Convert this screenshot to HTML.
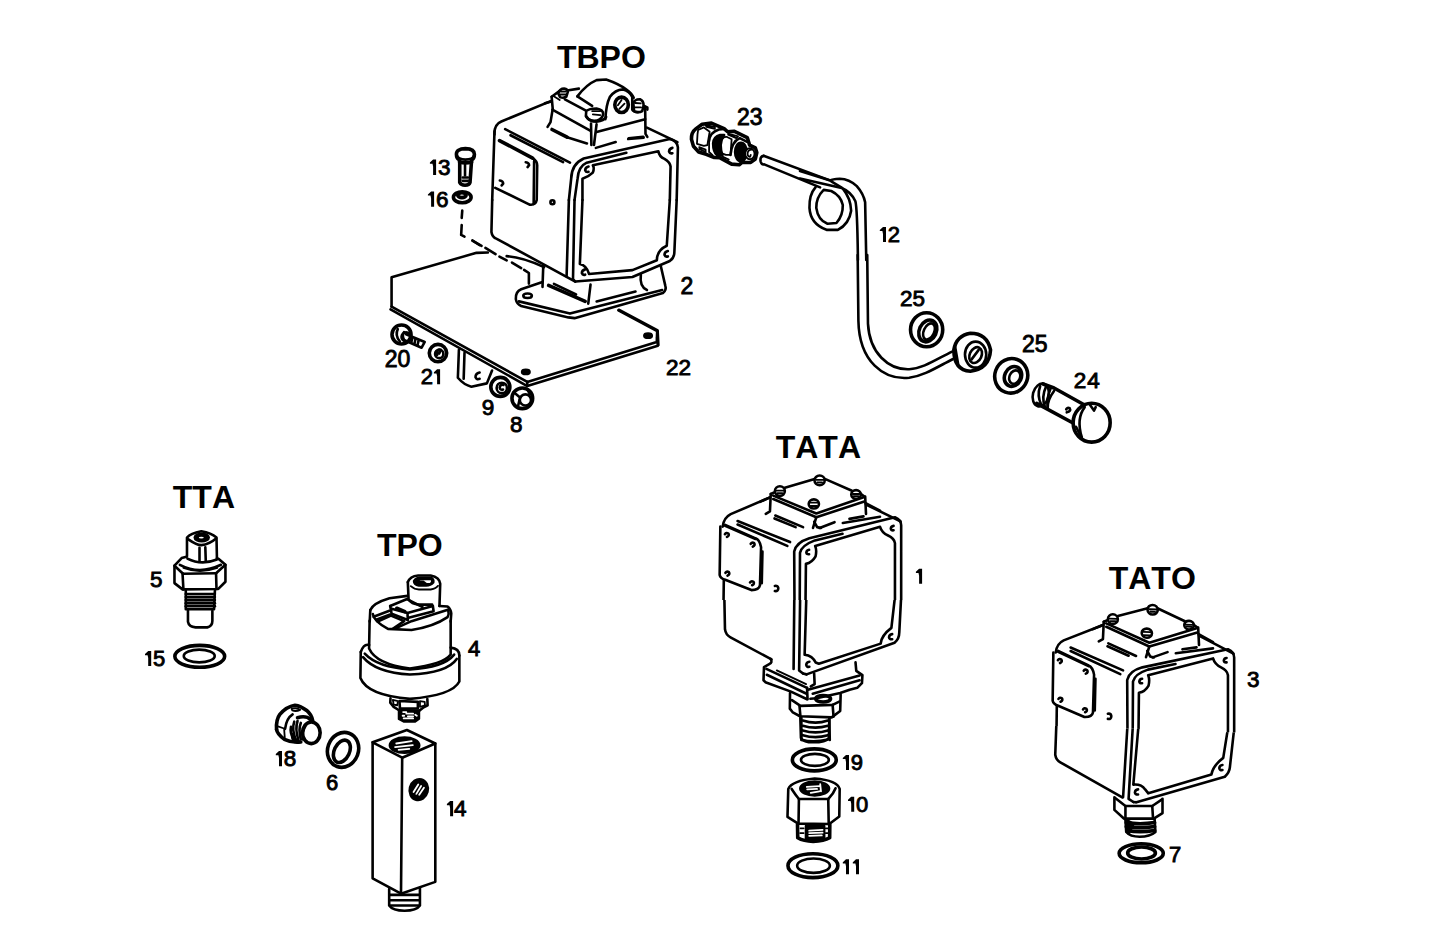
<!DOCTYPE html>
<html><head><meta charset="utf-8">
<style>
html,body{margin:0;padding:0;background:#fff;}
svg{display:block;}
.t{font-family:"Liberation Sans",sans-serif;font-weight:bold;font-size:32px;fill:#000;font-kerning:none;}
.n{font-family:"Liberation Sans",sans-serif;font-weight:normal;fill:#000;stroke:#000;stroke-width:0.9px;font-kerning:none;}
.s path,.s ellipse,.s circle,.s rect,.s polygon,.s polyline{fill:none;stroke:#000;stroke-width:2.6;stroke-linecap:round;stroke-linejoin:round;vector-effect:non-scaling-stroke;}
.s .f{fill:#fff;}
.s .k{fill:#000;}
.s .th{stroke-width:1.8;}
.s .bd{stroke-width:3.6;}
</style></head>
<body>
<svg width="1449" height="951" viewBox="0 0 1449 951">
<g id="labels"><text class="t" x="556.9" y="68">TBPO</text>
<text class="t" x="775.7" y="458">TATA</text>
<text class="t" x="172.8" y="508">TTA</text>
<text class="t" x="376.9" y="556">TPO</text>
<text class="t" x="1108.7" y="589">TATO</text>
<path d="M433.1 159.6 L436.1 159.6 L436.1 174.9 L433.1 174.9 L433.1 166.6 L432.5 163.8 L429.9 163.8 L429.9 162.6 Z"/>
<text class="n" x="437.9" y="174.9" font-size="22.5">3</text>
<path d="M431.1 191.4 L434.1 191.4 L434.1 206.7 L431.1 206.7 L431.1 198.4 L430.5 195.6 L427.9 195.6 L427.9 194.4 Z"/>
<text class="n" x="435.9" y="206.7" font-size="22.5">6</text>
<text class="n" x="680.4" y="293.7" font-size="23">2</text>
<text class="n" x="384.8" y="367.0" font-size="23">2</text>
<text class="n" x="397.6" y="367.0" font-size="23">0</text>
<text class="n" x="420.7" y="384.2" font-size="22">2</text>
<path d="M437.1 369.2 L440.1 369.2 L440.1 384.2 L437.1 384.2 L437.1 376.2 L436.5 373.4 L433.9 373.4 L433.9 372.2 Z"/>
<text class="n" x="481.8" y="414.8" font-size="22.5">9</text>
<text class="n" x="510.0" y="431.9" font-size="22.5">8</text>
<text class="n" x="666.0" y="374.8" font-size="22.5">2</text>
<text class="n" x="678.5" y="374.8" font-size="22.5">2</text>
<text class="n" x="736.9" y="124.9" font-size="23">2</text>
<text class="n" x="749.7" y="124.9" font-size="23">3</text>
<path d="M883.0 226.9 L886.0 226.9 L886.0 241.9 L883.0 241.9 L883.0 233.9 L882.4 231.1 L879.8 231.1 L879.8 229.9 Z"/>
<text class="n" x="887.8" y="241.9" font-size="22">2</text>
<text class="n" x="900.0" y="305.9" font-size="22.5">2</text>
<text class="n" x="912.5" y="305.9" font-size="22.5">5</text>
<text class="n" x="1021.9" y="351.9" font-size="23">2</text>
<text class="n" x="1034.7" y="351.9" font-size="23">5</text>
<text class="n" x="1073.8" y="388.1" font-size="22.5">2</text>
<text class="n" x="1087.3" y="388.1" font-size="22.5">4</text>
<text class="n" x="149.9" y="586.9" font-size="22.5">5</text>
<path d="M148.2 651.0 L151.2 651.0 L151.2 666.0 L148.2 666.0 L148.2 658.0 L147.6 655.2 L145.0 655.2 L145.0 654.0 Z"/>
<text class="n" x="153.0" y="666.0" font-size="22">5</text>
<text class="n" x="467.9" y="656.0" font-size="22">4</text>
<path d="M279.0 751.0 L282.0 751.0 L282.0 766.3 L279.0 766.3 L279.0 758.0 L278.4 755.2 L275.8 755.2 L275.8 754.0 Z"/>
<text class="n" x="283.8" y="766.3" font-size="22.5">8</text>
<text class="n" x="326.0" y="789.9" font-size="22">6</text>
<path d="M450.1 801.0 L453.1 801.0 L453.1 816.3 L450.1 816.3 L450.1 808.0 L449.5 805.2 L446.9 805.2 L446.9 804.0 Z"/>
<text class="n" x="453.9" y="816.3" font-size="22.5">4</text>
<path d="M919.1 568.8 L922.1 568.8 L922.1 583.8 L919.1 583.8 L919.1 575.8 L918.5 573.0 L915.9 573.0 L915.9 571.8 Z"/>
<path d="M846.0 754.9 L849.0 754.9 L849.0 769.9 L846.0 769.9 L846.0 761.9 L845.4 759.1 L842.8 759.1 L842.8 757.9 Z"/>
<text class="n" x="850.8" y="769.9" font-size="22">9</text>
<path d="M851.2 796.8 L854.2 796.8 L854.2 811.8 L851.2 811.8 L851.2 803.8 L850.6 801.0 L848.0 801.0 L848.0 799.8 Z"/>
<text class="n" x="856.0" y="811.8" font-size="22">0</text>
<path d="M846.0 859.2 L849.0 859.2 L849.0 874.2 L846.0 874.2 L846.0 866.2 L845.4 863.4 L842.8 863.4 L842.8 862.2 Z"/>
<path d="M856.0 859.2 L859.0 859.2 L859.0 874.2 L856.0 874.2 L856.0 866.2 L855.4 863.4 L852.8 863.4 L852.8 862.2 Z"/>
<text class="n" x="1246.9" y="686.9" font-size="22.5">3</text>
<text class="n" x="1168.9" y="861.9" font-size="22">7</text></g>
<g transform="translate(480,75) scale(0.152460)" class="s">

<path d="M95 390 Q92 325 140 305 L468 170"/>
<path d="M95 370 L80 820"/>
<path d="M1095 345 L1295 440"/>
<path d="M165 355 L590 575"/>
<path d="M200 395 L545 572"/>
<path class="bd" d="M128 430 L345 545"/>
<path d="M345 545 Q378 565 375 600 L372 820 Q365 855 325 850 L100 740"/>
<path d="M355 565 L352 845"/>
<path d="M300 572 q22 3 22 20 l-10 12"/><path d="M130 692 q22 3 22 20 l-10 12"/>
<circle cx="475" cy="835" r="13"/>
<path d="M583 820 L598 680 Q600 585 680 548 L1245 420 Q1292 430 1298 475 L1290 820"/>
<path d="M620 820 L640 680 Q645 600 700 575 L960 510"/>
<path d="M672 820 L672 680 Q715 665 740 640 Q752 610 740 592 L1170 500 Q1175 535 1210 550 Q1245 570 1250 600 L1245 820"/>
<path d="M712 600 q-22 5 -22 25 q5 15 22 10"/><path d="M1262 478 q-22 5 -22 25 q5 15 22 10"/>
<path d="M760 478 L890 440"/><path d="M975 415 L1070 405"/>

</g>
<g transform="translate(545,75) scale(0.073633)" class="s">

<path d="M0 385 L85 360"/>
<path d="M90 295 L105 460 L75 640 L35 705"/>
<path d="M90 295 L200 215"/>
<path d="M300 210 L460 185"/>
<path d="M440 290 Q560 130 700 70 L830 62 Q1000 120 1110 200 Q1180 250 1205 310"/>
<path d="M820 600 Q830 400 880 300 Q950 200 1060 195 Q1150 215 1185 300 L1185 470 Q1200 500 1260 505"/>
<ellipse class="bd" cx="1040" cy="405" rx="92" ry="105"/>
<path class="th" d="M990 410 L1040 340 M1010 460 L1080 390"/>
<path d="M180 250 Q200 185 260 185 Q310 190 310 230 L290 295 Q250 320 205 300 Z"/>
<path class="th" d="M215 225 L280 225 M205 265 L290 265"/>
<path class="th" d="M120 290 L200 340"/>
<path d="M270 330 L550 480"/>
<path d="M440 290 L640 420"/>
<path d="M100 470 L620 760"/>
<path d="M560 490 Q600 455 700 455 Q790 470 790 530 Q780 600 700 620 Q590 630 555 560 Z"/>
<path class="th" d="M640 490 L750 490 M650 535 L750 545"/>
<path d="M560 560 Q600 630 700 635 Q800 620 830 570"/>
<path d="M700 775 L1360 600"/>
<path d="M1360 430 L1365 800 L1390 840"/>
<path d="M1200 390 Q1210 330 1290 330 Q1340 350 1340 420 L1320 490 Q1270 520 1210 490 Z"/>
<path class="th" d="M1225 380 L1300 385 M1220 440 L1305 440"/>
<path d="M1340 420 L1390 440 L1390 470"/>
<path d="M625 660 L630 951"/><path d="M700 670 L665 951"/>
<path class="bd" d="M95 740 L300 845"/><path d="M300 845 L570 930"/>
<path d="M1130 870 L1340 850"/>

</g>
<g transform="translate(440,215) scale(0.096618)" class="s">

<path d="M335 265 L430 320"/><path d="M470 340 L575 405"/><path d="M615 430 L690 470"/><path d="M745 492 L840 550"/><path d="M870 568 L920 600 L920 710"/>

</g>
<g transform="translate(480,200) scale(0.152460)" class="s">

<path d="M80 0 L75 210 Q80 245 110 255 L625 535"/>
<path d="M583 0 L568 500"/>
<path d="M620 0 L610 520 L625 535 L1000 505 L1245 400 Q1275 380 1275 340 L1290 0"/>
<path d="M672 0 L655 420 Q700 430 715 485 L1000 460 L1160 395 Q1160 330 1225 300 L1245 0"/>
<path d="M690 455 q-22 5 -22 25 q5 15 22 10"/><path d="M1232 335 q-22 5 -22 25 q5 15 22 10"/>
<path d="M415 430 L410 570"/>
<path d="M405 540 L270 585 Q232 600 235 650 Q240 682 270 695 L580 770 L620 775 L1200 610 Q1225 590 1215 560 L1185 430"/>
<path d="M255 665 L590 745 L1195 590"/>
<path d="M1055 490 Q1045 570 1095 590"/>
<path d="M725 555 L710 680"/>
<path class="bd" d="M450 560 L690 665"/><path d="M485 550 L630 620"/>
<ellipse cx="312" cy="628" rx="28" ry="15"/>
<path d="M765 665 L1020 600"/>
<path d="M910 720 L1165 855 L1170 951"/>
<path d="M175 368 Q280 375 420 440"/>

</g>
<g transform="translate(380,140) scale(0.110421)" class="s">

<path class="bd" d="M692 130 Q690 80 773 78 Q855 80 855 130 Q855 170 830 180 L830 200 Q773 215 720 200 L720 180 Q692 170 692 130 Z"/>
<path d="M695 140 Q705 175 773 178 Q845 175 852 140"/>
<path class="bd" d="M722 200 L722 385 Q735 410 770 410 Q808 408 815 385 L828 200"/>
<path d="M750 340 L795 340"/><path d="M750 370 L795 370"/>
<path d="M770 225 L770 320"/>
<ellipse class="bd" cx="745" cy="518" rx="80" ry="50"/>
<ellipse class="bd" cx="742" cy="500" rx="38" ry="22"/>
<path d="M745 640 L740 705"/>
<path d="M740 770 L735 860 L765 875"/>
<path d="M838 910 L900 951"/>

</g>
<g transform="translate(375,240) scale(0.207182)" class="s">

<path d="M80 322 L80 180 L490 62 L545 60"/>
<path d="M80 322 L735 685 L1360 492 L1362 440 L1175 340"/>
<path d="M75 335 L735 705 L1365 510 L1362 470"/>
<path d="M735 685 L735 705"/>
<ellipse class="k" cx="1318" cy="462" rx="18" ry="10"/>
<ellipse class="k" cx="728" cy="637" rx="18" ry="10"/>
<path d="M405 530 L400 665 Q430 700 465 708 L540 692 L565 630"/>
<path d="M432 545 L428 670"/>
<path d="M505 640 q-20 5 -20 22 q5 14 20 8"/>
<circle class="bd" cx="128" cy="456" r="46"/><circle cx="150" cy="468" r="22"/>
<path d="M110 430 Q95 460 120 490"/><path d="M140 445 Q125 470 150 495"/>
<path d="M150 455 L240 492 L225 520 L145 485"/>
<path d="M180 475 L175 495"/><path d="M195 480 L190 502"/><path d="M210 487 L205 508"/>
<circle class="bd" cx="304" cy="546" r="42"/><circle cx="310" cy="550" r="20"/>
<path d="M300 555 Q295 525 318 530 L310 548"/>
<circle class="bd" cx="605" cy="709" r="46"/><circle cx="612" cy="714" r="25"/><path d="M620 700 q-15 -5 -18 12 q2 14 16 10"/>
<circle class="bd" cx="711" cy="764" r="50"/><circle cx="726" cy="772" r="27"/><path d="M670 735 L700 760 L690 805"/><path d="M735 720 L748 745"/>

</g>
<g transform="translate(690,100) scale(0.131397)" class="s">

<path d="M560 425 L1060 610"/>
<path d="M560 425 Q530 430 538 470 Q545 495 565 490 L990 665"/>

</g>
<g transform="translate(690,115) scale(0.057845)" class="s">

<path class="bd" d="M25 420 Q20 300 100 240 L210 160 L370 140 L590 235 L650 290 L760 280 L990 390 L1030 520 L1130 570 L1155 650 L1130 760 L1050 820 L900 820 L850 860 L720 850 L520 740 L420 735 L280 680 L150 640 L60 540 Z"/>
<path class="th" d="M140 260 L240 215 L340 290 L300 520 L240 535 L120 500 L130 330 Z"/>
<path class="th" d="M270 175 L430 205 L430 240 L285 205 Z"/>
<path class="th" d="M160 555 L270 600 L270 640 L165 590 Z"/>
<path class="k" d="M400 490 Q410 370 520 345 L590 345 Q540 410 530 520 Q530 620 560 700 L470 700 Q400 640 400 490 Z"/>
<path d="M330 450 Q340 300 500 250 L590 240"/>
<path class="th" d="M330 450 L330 640 L390 695"/>
<path class="th" d="M530 470 Q560 370 640 380 L720 420 L700 690 L620 690 L520 650"/>
<path class="th" d="M660 320 L830 370 L800 400 L660 340 Z"/>
<path class="th" d="M560 720 L670 770 L640 790"/>
<path d="M700 690 Q720 460 860 400 L980 460"/>
<ellipse class="k" cx="880" cy="640" rx="100" ry="160"/>
<ellipse class="f th" cx="1035" cy="670" rx="80" ry="95"/>
<path class="th" d="M1070 600 Q1000 600 995 670 Q1000 730 1040 720 L1050 690"/>

</g>
<g transform="translate(800,170) scale(0.094675)" class="s">

<path d="M0 10 L320 112 Q340 95 420 92 Q520 95 600 170 Q670 250 688 340 L700 951"/>
<path d="M0 90 L440 190 Q540 230 585 330 Q605 400 612 951"/>
<path d="M330 120 L440 185"/>
<path d="M165 180 Q95 260 100 400 Q110 570 280 632 L400 632 Q520 570 540 430 Q535 300 455 200"/>
<path d="M250 210 Q170 290 172 400 Q190 530 290 568 L385 560 Q455 480 452 370 Q430 270 330 222 Z"/>

</g>
<g transform="translate(840,250) scale(0.147194)" class="s">

<path d="M120 34 L125 480 C130 760 300 885 470 868 C570 855 660 795 765 742"/>
<path d="M185 34 L190 500 C200 700 330 815 470 810 C565 805 650 745 762 690"/>

</g>
<g transform="translate(800,170) scale(0.236686)" class="s">

<path class="bd" d="M650 760 Q660 700 720 690 Q790 690 805 760 Q800 840 720 850 Q650 845 650 760 Z"/>
<path d="M655 745 L668 820"/>
<ellipse cx="742" cy="780" rx="45" ry="55"/>
<ellipse cx="742" cy="782" rx="25" ry="35" transform="rotate(25 742 782)"/>
<path d="M725 800 L755 760"/>
<ellipse class="bd" cx="535" cy="675" rx="68" ry="72"/>
<ellipse class="bd" cx="540" cy="680" rx="36" ry="48" transform="rotate(25 540 680)"/>
<ellipse cx="545" cy="682" rx="22" ry="36" transform="rotate(25 545 682)"/>

</g>
<g transform="translate(980,340) scale(0.115702)" class="s">

<ellipse class="bd" cx="270" cy="310" rx="142" ry="150" transform="rotate(20 270 310)"/>
<ellipse class="bd" cx="285" cy="315" rx="72" ry="88" transform="rotate(25 285 315)"/>
<ellipse cx="300" cy="320" rx="45" ry="60" transform="rotate(25 300 320)"/>
<ellipse cx="525" cy="475" rx="68" ry="100" transform="rotate(15 525 475)"/>
<path class="bd" d="M545 380 L640 415 L900 560"/>
<path class="bd" d="M490 548 L800 715"/>
<path d="M520 400 Q490 480 530 560"/><path d="M570 405 Q530 490 560 575"/><path d="M610 420 Q575 500 585 585"/>
<ellipse class="bd" cx="965" cy="715" rx="160" ry="168"/>
<path d="M905 580 Q830 680 880 840"/>
<path d="M950 560 L985 610 L1000 580"/>
<path d="M830 750 L870 830"/>
<path d="M640 440 Q580 520 585 590"/>
<path d="M745 600 q10 -20 30 -10 q15 25 -25 35"/>

</g>
<g transform="translate(140,520) scale(0.168303)" class="s">

<path d="M272 420 L272 530 L440 530 L445 420"/>
<path d="M272 440 L445 440"/><path d="M272 458 L445 458"/><path d="M272 476 L445 476"/><path d="M272 494 L445 494"/><path d="M272 512 L445 512"/>
<path d="M285 535 L285 605 Q290 635 330 638 L400 638 Q430 630 430 600 L430 540"/>
<ellipse class="bd" cx="355" cy="810" rx="148" ry="65"/>
<ellipse cx="352" cy="808" rx="92" ry="38"/>

</g>
<g transform="translate(170,525) scale(0.089419)" class="s">

<path d="M190 350 L190 140 Q230 95 350 70 Q460 90 520 140 L525 375"/>
<path d="M205 160 Q300 225 350 225 Q440 215 515 150"/>
<ellipse class="k" cx="355" cy="140" rx="78" ry="42"/>
<ellipse class="f th" cx="350" cy="140" rx="38" ry="20"/>
<path d="M330 255 L330 410"/><path d="M395 250 L400 400"/>
<path d="M195 375 Q350 455 525 385"/>
<path d="M185 355 L130 370 L50 455 L50 650 L140 720 L540 715 L620 635 L620 445 L545 380 L525 372"/>
<path d="M110 445 Q330 560 570 445"/>
<path class="th" d="M150 480 Q330 550 530 480"/>
<path d="M145 545 L515 540"/>
<path d="M140 540 L150 720"/><path d="M515 540 L520 715"/>
<path d="M50 455 L140 540"/><path d="M620 445 L515 540"/>

</g>
<g transform="translate(360,570) scale(0.073584)" class="s">

<path d="M650 165 Q680 85 790 75 L960 75 Q1080 100 1090 185 L1080 490"/>
<path d="M650 165 L660 400 Q700 460 800 470 L980 470"/>
<path class="th" d="M690 220 Q740 265 800 265 L960 265 Q1040 250 1060 215"/>
<path class="k" d="M735 150 Q760 105 820 105 L960 105 Q1005 125 995 170 Q960 210 900 210 L800 210 Q735 200 735 150 Z"/>
<path class="f th" d="M800 130 L965 122 Q995 150 955 190 L905 190 L865 160 L805 160 Z"/>
<path d="M140 545 Q180 450 400 385 L645 352"/>
<path d="M1080 490 L1190 495 Q1235 530 1240 590 L1232 700"/>
<path d="M140 545 L132 700"/>
<path d="M175 600 Q190 700 380 800 L700 815 Q1000 770 1190 640 Q1215 600 1200 555"/>
<path d="M185 635 L400 555"/>
<path d="M220 675 L410 605"/>
<path d="M410 490 L640 395 L850 505"/>
<path d="M410 490 L430 595 L650 680 L645 585 L430 525"/>
<path d="M645 585 L990 490 L1000 560 L660 650"/>
<path d="M990 490 L965 480"/>
<path class="bd" d="M500 520 L610 565"/>
<path d="M490 790 L700 695 L1195 540"/>
<path d="M240 700 L420 620 L600 695 L450 795"/>

</g>
<g transform="translate(350,560) scale(0.173565)" class="s">

<path d="M113 350 L110 510 Q150 600 345 625 Q540 600 580 545 L580 350"/>
<path d="M62 530 Q80 480 110 490"/><path d="M580 505 Q630 510 630 550"/>
<path d="M62 530 L60 680 Q100 780 345 800 Q590 780 630 700 L630 550"/>
<path d="M75 560 Q150 650 345 660 Q560 650 615 570"/>
<path d="M85 540 Q160 620 345 630 Q540 620 600 545"/>

</g>
<g transform="translate(380,690) scale(0.052592)" class="s">

<path d="M200 160 L195 240 L260 320 L362 385"/>
<path d="M900 170 L905 290 L830 330 L742 400"/>
<path class="th" d="M245 190 L340 210 L330 290 L260 280 Z"/>
<path d="M370 210 L720 225 L720 350 L380 355 Z"/>
<path class="th" d="M760 210 L850 225 L855 290 L760 320 Z"/>
<path class="k" d="M362 385 L362 550 L460 600 L660 600 L740 545 L740 390 Z"/>
<path class="th" d="M440 420 L500 420 M500 450 L630 450 M430 490 L460 490 M530 500 L630 500 M450 540 L630 540 M670 470 L700 490" style="stroke:#fff"/>

</g>
<g transform="translate(270,700) scale(0.065562)" class="s">

<path class="bd" d="M100 450 Q90 300 150 220 Q250 100 380 80 Q470 90 560 160 Q630 220 650 310"/>
<path class="bd" d="M100 450 Q110 520 220 600 Q330 655 470 640"/>
<path class="th" d="M330 135 Q400 110 460 150 Q400 180 340 160 Z"/>
<path class="th" d="M110 400 L215 435 L225 570"/>
<path d="M230 440 Q250 280 345 220"/>
<path class="bd" d="M420 270 Q500 245 570 265 L650 320"/>
<ellipse class="bd" cx="630" cy="500" rx="135" ry="165"/>
<path d="M320 410 Q300 500 360 600"/><path d="M370 330 Q330 440 390 600"/><path d="M420 320 Q380 440 430 600"/><path d="M470 350 Q430 450 470 600"/><path d="M540 400 Q490 470 500 600"/>
<path class="k" d="M340 520 Q360 600 440 630 L380 640 Q330 600 340 520 Z"/>

</g>
<g transform="translate(265,695) scale(0.236531)" class="s">

<ellipse class="bd" cx="330" cy="232" rx="65" ry="75" transform="rotate(20 330 232)"/>
<ellipse class="bd" cx="325" cy="238" rx="32" ry="50" transform="rotate(25 325 238)"/>
<path d="M455 200 L600 148 L720 205 L580 265 Z"/>
<path d="M455 200 L455 775 L575 840 L580 265"/>
<path d="M720 205 L720 790 L575 840"/>
<ellipse class="k" cx="590" cy="212" rx="62" ry="32"/>
<path class="th" d="M555 205 L620 195 M550 220 L625 212 M565 232 L610 228" style="stroke:#fff"/>
<ellipse class="k" cx="650" cy="400" rx="38" ry="44" transform="rotate(15 650 400)"/>
<path class="th" d="M628 410 L648 378 M640 418 L660 385 M652 422 L672 392" style="stroke:#fff"/>
<path d="M525 820 L525 890 Q540 912 590 912 Q640 912 655 890 L655 815"/>
<path d="M528 845 L652 845"/><path d="M528 868 L652 868"/><path d="M530 890 L650 890"/>

</g>
<defs><clipPath id="ctop"><rect x="0" y="0" width="1449" height="600"/></clipPath><clipPath id="cbot1"><rect x="0" y="600" width="1449" height="351"/></clipPath><clipPath id="cbot2"><polygon points="0,688.3 1449,740 1449,951 0,951"/></clipPath></defs><g id="boxtop"><g clip-path="url(#ctop)">
<g transform="translate(710,470) scale(0.138026)" class="s">

<path d="M92 410 Q100 345 150 320 L430 200"/>
<path d="M1130 250 L1380 372"/>
<path d="M75 410 L70 760 Q75 785 110 795 L300 870 Q355 870 362 835 L370 560 Q360 505 330 495 L110 398"/>
<path d="M380 590 L375 820"/>
<path d="M110 405 L330 500"/>
<path d="M108 465 q10 -15 25 -5 q10 15 -10 25"/><path d="M295 535 q10 -15 25 -5 q10 15 -10 25"/>
<path d="M112 745 q10 -15 25 -5 q10 15 -10 25"/><path d="M290 815 q10 -15 25 -5 q10 15 -10 25"/>
<path d="M200 370 L580 522"/><path d="M200 395 L560 550"/>
<path d="M612 960 L610 590 Q625 525 720 495 L1340 342 Q1385 360 1385 400 L1385 960"/>
<path d="M650 960 L652 600 Q665 545 760 510 L960 462"/>
<path d="M692 960 L695 680 Q740 670 765 625 Q775 580 762 550 L1232 412 Q1245 455 1290 475 Q1335 495 1340 530 L1340 960"/>
<path d="M718 578 q-18 2 -20 20 q2 15 20 12"/><path d="M1330 405 q-18 2 -20 20 q2 15 20 12"/>
<path d="M100 800 L98 960"/>
<path d="M470 840 q20 -5 25 15 q0 25 -25 22"/>

</g>
<g transform="translate(760,470) scale(0.082816)" class="s">

<path d="M0 385 L120 330"/>
<path d="M130 290 L240 240"/><path d="M300 215 L660 110"/><path d="M790 110 L1110 250"/><path d="M1220 290 L1260 320"/>
<path d="M160 310 L680 525 L1250 330"/>
<path d="M160 350 L680 570 L1260 380"/>
<path d="M130 290 L120 500 L70 530"/>
<path d="M1270 320 L1280 530"/>
<path d="M1275 400 L1449 490"/>
<ellipse class="f" cx="240" cy="255" rx="60" ry="58"/><path class="th" d="M200 250 L290 250 M210 280 L270 280"/>
<ellipse class="f" cx="720" cy="125" rx="62" ry="58"/><path class="th" d="M680 120 L770 120 M690 150 L750 150"/>
<ellipse class="f" cx="1160" cy="295" rx="58" ry="52"/><path class="th" d="M1120 290 L1200 290 M1130 315 L1190 315"/>
<ellipse cx="650" cy="410" rx="62" ry="55"/><path class="th" d="M605 395 L695 395 M610 435 L690 435"/>
<path d="M185 550 L520 690"/><path d="M175 585 L430 690"/>
<path d="M680 570 L640 700"/><path d="M655 625 L690 690 L735 700"/>
<path d="M720 700 L900 630"/>
<path d="M1000 640 L1449 565"/><path d="M1080 590 L1250 560"/>

</g>
</g></g>
<use href="#boxtop" transform="matrix(1,0.0357,0,1,333,100.15)"/>
<g clip-path="url(#cbot1)">
<g transform="translate(710,590) scale(0.157729)" class="s">

<path d="M90 0 L95 250 Q100 285 130 300 L390 440"/>
<path d="M535 0 L530 500"/>
<path d="M572 0 L565 510 L590 530"/>
<path d="M612 0 L600 410 Q650 415 670 460 L690 468 L1082 340 Q1085 290 1150 240 L1173 40"/>
<path d="M612 535 L1170 335 Q1200 310 1200 270 L1212 40"/>
<path d="M590 530 L612 535"/>
<path d="M630 455 q-18 2 -20 20 q2 15 20 12"/><path d="M1155 280 q-18 2 -20 20 q2 15 20 12"/>

</g>
<g transform="translate(755,650) scale(0.094650)" class="s">

<path d="M165 95 Q190 130 150 150 L95 180 L90 320 L110 340 L380 440 L550 520"/>
<path d="M120 200 L550 400"/><path d="M125 262 L545 462"/><path class="th" d="M230 215 L540 360"/>
<path d="M550 400 L555 520"/>
<path d="M625 250 L630 360 L590 385"/>
<path d="M560 420 L1105 270"/><path d="M610 462 L1105 320"/>
<path d="M585 515 L650 510 L900 455 L1000 420 L1080 400 L1130 350 L1135 265 L1070 220 L1062 130"/>
<path d="M370 455 L368 620 L400 660 L475 700 L810 712 L900 645 L905 470"/>
<path d="M390 530 L480 590 L820 580 L890 545"/>
<path d="M470 590 L480 700"/><path d="M820 580 L830 705"/>
<ellipse class="bd" cx="720" cy="515" rx="78" ry="35"/>
<path d="M490 715 L490 951"/><path d="M785 715 L790 951"/>
<path d="M505 745 Q640 790 770 745"/><path d="M505 800 Q640 840 770 800"/><path d="M505 850 Q640 890 770 850"/><path d="M505 900 Q640 940 770 900"/>

</g>
</g>
<g transform="translate(770,700) scale(0.199601)" class="s">

<path d="M152 90 L155 190 Q170 212 215 212 Q280 212 295 190 L297 90"/>
<path d="M160 200 Q220 215 290 198"/>
<ellipse class="bd" cx="222" cy="300" rx="110" ry="55"/>
<ellipse cx="225" cy="300" rx="70" ry="30"/>
<ellipse class="bd" cx="215" cy="830" rx="125" ry="60"/>
<ellipse cx="218" cy="830" rx="82" ry="36"/>

</g>
<g transform="translate(780,770) scale(0.078829)" class="s">

<path d="M105 240 Q150 135 440 108 Q725 130 757 240 L752 590 L625 685 L230 680 L95 595 Z"/>
<path d="M148 240 Q200 320 240 368 L612 368 Q680 300 705 232"/>
<path d="M240 368 L235 685"/><path d="M612 368 L618 688"/>
<ellipse class="k" cx="440" cy="235" rx="182" ry="88"/>
<path class="th" d="M340 215 L500 205 M345 245 L470 240 M390 290 L500 270 M510 180 L520 270" style="stroke:#fff"/>
<path class="bd" d="M222 690 L225 860 Q300 905 420 905 Q560 900 630 860 L632 690"/>
<path class="k" d="M330 710 L560 710 L560 880 L330 880 Z"/>
<path class="th" d="M370 770 L540 760 M370 800 L540 795 M370 835 L530 830" style="stroke:#fff"/>
<path class="th" d="M260 740 L300 740 M255 800 L300 800 M580 740 L610 740 M580 800 L610 800"/>

</g>
<g clip-path="url(#cbot2)">
<g transform="translate(1045,720) scale(0.157729)" class="s">

<path d="M73 0 L65 220 Q70 255 100 270 L490 490"/>
<path d="M525 0 L495 490"/>
<path d="M559 0 L530 500 L560 520"/>
<path d="M596 0 L560 410 Q610 405 635 440 L655 465 L1055 345 Q1065 290 1130 240 L1162 40"/>
<path d="M560 520 L580 522 L1140 360 Q1170 330 1172 300 L1201 40"/>
<path d="M590 440 q-18 2 -20 20 q2 15 20 12"/><path d="M1125 285 q-18 2 -20 20 q2 15 20 12"/>
<path d="M440 490 L440 570 L500 625 L690 625 L745 590 L745 500"/>
<path d="M445 495 L510 545 L680 545 L740 505"/>
<path d="M510 545 L510 625"/><path d="M680 545 L685 625"/>
<path d="M510 630 L515 710 Q540 740 600 740 Q665 740 700 710 L695 630"/>
<path class="bd" d="M515 650 Q600 665 695 650"/><path class="bd" d="M515 675 Q600 690 695 675"/><path class="bd" d="M520 700 Q600 715 695 700"/><path class="k" d="M512 630 L530 720 L560 660 Z"/>
<ellipse class="bd" cx="610" cy="845" rx="140" ry="60"/>
<ellipse class="bd" cx="612" cy="843" rx="88" ry="38"/>

</g>
</g>
</svg>
</body></html>
